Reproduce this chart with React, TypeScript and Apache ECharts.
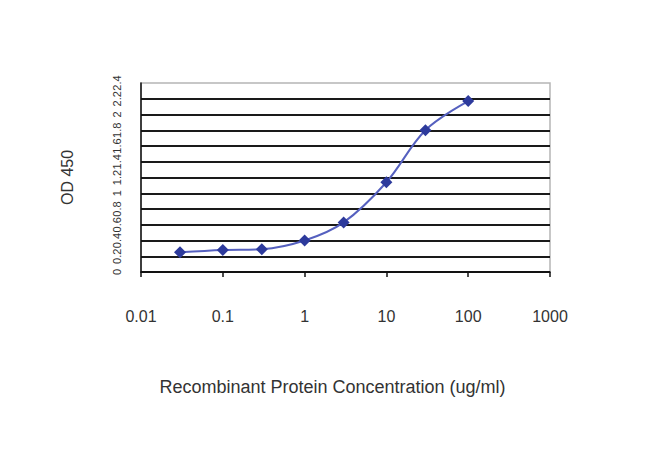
import React, { useEffect, useRef } from "react";
import * as echarts from "echarts";

const concentrations = [0.03, 0.1, 0.3, 1, 3, 10, 30, 100];
const odValues = [0.25, 0.28, 0.29, 0.4, 0.63, 1.14, 1.8, 2.17];
const xTickLabels = ["0.01", "0.1", "1", "10", "100", "1000"];

export default function App() {
  const ref = useRef<HTMLDivElement>(null);
  useEffect(() => {
    document.body.style.margin = "0";
    const chart = echarts.init(ref.current!, null, { renderer: "svg" });
    chart.setOption({
      animation: false,
      backgroundColor: "#ffffff",
      grid: {
        left: 141,
        right: 100,
        top: 83,
        bottom: 194,
        show: true,
        borderColor: "#b5b5b5",
        borderWidth: 1.5,
      },
      xAxis: {
        type: "log",
        logBase: 10,
        min: 0.01,
        max: 1000,
        name: "Recombinant Protein Concentration (ug/ml)",
        nameLocation: "middle",
        nameGap: 106,
        nameTextStyle: {
          fontFamily: "Liberation Sans",
          fontSize: 18,
          color: "#333",
          padding: [0, 26, 0, 0],
        },
        axisLine: { show: true, onZero: false, lineStyle: { color: "#111", width: 1.5 } },
        axisTick: { show: true, inside: false, length: 5, lineStyle: { color: "#111", width: 1.5 } },
        minorTick: { show: false },
        splitLine: { show: false },
        axisLabel: {
          margin: 36,
          fontFamily: "Liberation Sans",
          fontSize: 16,
          color: "#333",
          formatter: (v: number) => {
            const idx = Math.round(Math.log10(v)) + 2;
            return xTickLabels[idx] ?? "";
          },
        },
      },
      yAxis: {
        type: "value",
        min: 0,
        max: 2.4,
        interval: 0.2,
        name: "OD 450",
        nameLocation: "middle",
        nameGap: 66,
        nameRotate: 90,
        nameTextStyle: { fontFamily: "Liberation Sans", fontSize: 16, color: "#333" },
        axisLine: { show: true, lineStyle: { color: "#111", width: 1.5 } },
        axisTick: { show: false },
        splitLine: {
          show: true,
          showMaxLine: false,
          lineStyle: {
            color: "#1a1a1a",
            width: 2,
          },
        },
        axisLabel: {
          rotate: 90,
          margin: 19,
          interval: 0,
          showMaxLabel: true,
          showMinLabel: true,
          hideOverlap: false,
          fontFamily: "Liberation Sans",
          fontSize: 11,
          color: "#333",
          formatter: (v: number) => String(+v.toFixed(1)),
        },
      },
      series: [
        {
          type: "line",
          data: concentrations.map((c, i) => [c, odValues[i]]),
          smooth: 0.35,
          symbol: "diamond",
          symbolSize: 12,
          lineStyle: { color: "#5560bf", width: 2 },
          itemStyle: { color: "#2d3a9c" },
        },
      ],
    });
    return () => chart.dispose();
  }, []);
  return <div ref={ref} style={{ width: 650, height: 466 }} />;
}
